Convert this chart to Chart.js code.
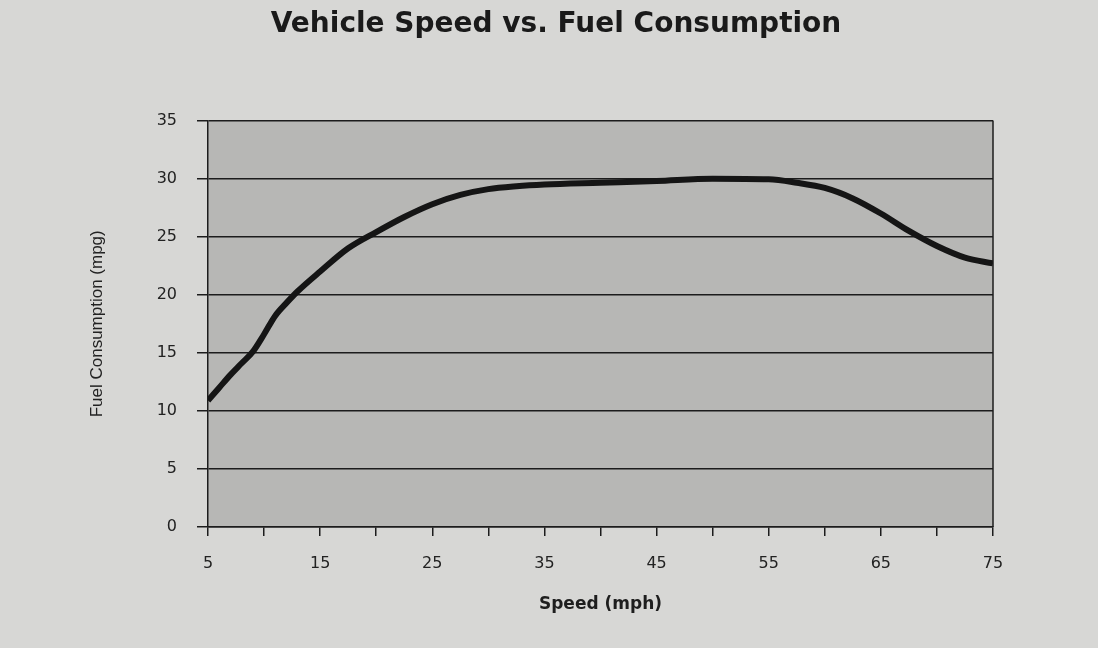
<!DOCTYPE html>
<html>
<head>
<meta charset="utf-8">
<script src="https://cdn.jsdelivr.net/npm/chart.js@4/dist/chart.umd.min.js"></script>
<style>
  html, body { margin: 0; padding: 0; background: #d7d7d5; }
  #wrap { width: 1098px; height: 648px; }
</style>
</head>
<body>
<div id="wrap"><canvas id="speedChart" width="1098" height="648"></canvas></div>
<script>
/* --- data --- */
const speeds = [5, 6, 7, 8, 9, 10, 11, 12, 13, 15, 17.5, 20, 22.5, 25, 27.5, 30, 32.5, 35, 40, 45, 50, 55, 57.5, 60, 62.5, 65, 67.5, 70, 72.5, 75];
const mpg    = [10.9, 12.0, 13.1, 14.1, 15.1, 16.6, 18.2, 19.3, 20.3, 22.0, 24.0, 25.4, 26.7, 27.8, 28.6, 29.1, 29.35, 29.5, 29.65, 29.8, 30.0, 29.95, 29.65, 29.2, 28.3, 27.0, 25.5, 24.2, 23.2, 22.7];
const xLabelTicks = [5, 15, 25, 35, 45, 55, 65, 75];
const yTicks = [0, 5, 10, 15, 20, 25, 30, 35];

const ink = '#1c1c1c';

// grey plot background + frame round the plot area
const plotFrame = {
    id: 'plotFrame',
    beforeDraw(chart) {
        const { ctx, chartArea: a } = chart;
        ctx.save();
        ctx.fillStyle = '#b7b7b5';
        ctx.fillRect(a.left, a.top, a.right - a.left, a.bottom - a.top);
        ctx.restore();
    },
    afterDatasetsDraw(chart) {
        const { ctx, chartArea: a } = chart;
        ctx.save();
        ctx.strokeStyle = ink;
        ctx.lineWidth = 1.5;
        ctx.beginPath();
        ctx.moveTo(a.right, a.top);
        ctx.lineTo(a.right, a.bottom);
        ctx.stroke();
        ctx.restore();
    }
};

const ctx = document.getElementById('speedChart');

new Chart(ctx, {
    type: 'line',
    data: {
        datasets: [{
            label: 'Fuel Consumption',
            data: speeds.map((s, i) => ({ x: s, y: mpg[i] })),
            borderColor: '#151515',
            borderWidth: 6,
            pointRadius: 0,
            fill: false,
            cubicInterpolationMode: 'monotone'
        }]
    },
    options: {
        responsive: false,
        animation: false,
        layout: { padding: { left: 14, right: 0, top: 0, bottom: 0 } },
        plugins: {
            legend: { display: false },
            tooltip: { enabled: false },
            title: {
                display: true,
                text: 'Vehicle Speed vs. Fuel Consumption',
                color: '#1a1a1a',
                font: { family: 'DejaVu Sans', size: 28, weight: 'bold' },
                padding: { top: 8, bottom: 79 }
            }
        },
        scales: {
            x: {
                type: 'linear',
                min: 5,
                max: 75,
                afterBuildTicks: scale => {
                    scale.ticks = [];
                    for (let v = 5; v <= 75; v += 5) scale.ticks.push({ value: v });
                },
                ticks: {
                    color: '#222',
                    padding: 18,
                    font: { family: 'DejaVu Sans', size: 16 },
                    maxRotation: 0,
                    autoSkip: false,
                    callback: v => xLabelTicks.includes(v) ? String(v) : ''
                },
                grid: {
                    drawOnChartArea: false,
                    drawTicks: true,
                    tickLength: 9,
                    color: ink,
                    lineWidth: 1.5
                },
                border: { color: ink, width: 1.5 },
                title: {
                    display: true,
                    text: 'Speed (mph)',
                    color: '#1e1e1e',
                    font: { family: 'DejaVu Sans', size: 17, weight: 'bold' },
                    padding: { top: 22, bottom: 33 }
                },
                afterFit: scale => { scale.height = 121; }
            },
            y: {
                min: 0,
                max: 35,
                afterBuildTicks: scale => {
                    scale.ticks = yTicks.map(v => ({ value: v }));
                },
                ticks: {
                    color: '#222',
                    padding: 20,
                    font: { family: 'DejaVu Sans', size: 16 }
                },
                grid: {
                    color: ink,
                    lineWidth: 1.5,
                    drawTicks: true,
                    tickLength: 11
                },
                border: { color: ink, width: 1.5 },
                title: {
                    display: true,
                    text: 'Fuel Consumption (mpg)',
                    color: '#222',
                    font: { family: 'Liberation Sans', size: 17 },
                    padding: { top: 73, bottom: 0 }
                },
                afterFit: scale => { scale.width = 194; }
            },
            // empty right-hand axis that only reserves the margin
            yRight: {
                position: 'right',
                display: true,
                ticks: { display: false },
                grid: { display: false },
                border: { display: false },
                afterFit: scale => { scale.width = 105; }
            }
        }
    },
    plugins: [plotFrame]
});
</script>
</body>
</html>
